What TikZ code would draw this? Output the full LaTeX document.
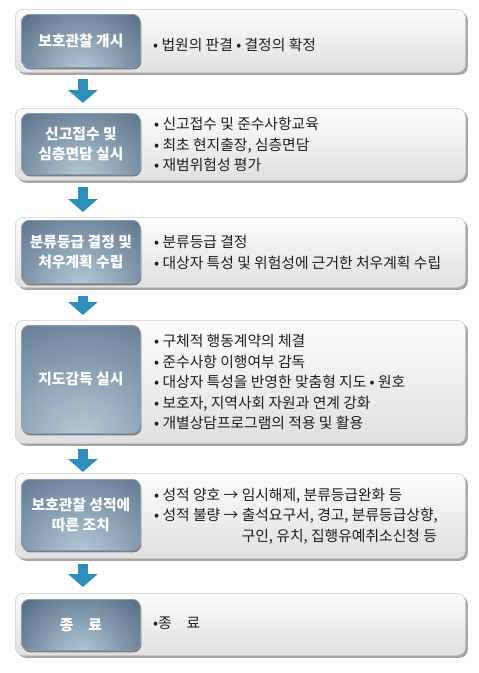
\documentclass[tikz,border=0pt]{standalone}
\usepackage{fontspec}
\setmainfont{Noto Sans CJK KR}
\usetikzlibrary{shadows,arrows.meta,calc}
\definecolor{navyedge}{HTML}{3E5472}
\definecolor{navylight}{HTML}{B4CCD7}
\definecolor{navyborder}{HTML}{8C9DB0}
\definecolor{flowblue}{HTML}{2E8EBB}
\definecolor{paneltop}{HTML}{FCFCFC}
\definecolor{panelbot}{HTML}{E0E0E0}
\definecolor{panelline}{HTML}{CFCFCF}
\definecolor{bodytext}{HTML}{1E1E1E}
\tikzset{
  panel/.style={anchor=north west, rounded corners=8pt, draw=panelline, line width=0.6pt,
    top color=paneltop, bottom color=panelbot, minimum width=450pt, inner sep=0pt,
    drop shadow={shadow xshift=2.5pt, shadow yshift=-2.5pt, fill=black, opacity=0.35}},
  darkbox/.style={anchor=north west, rounded corners=8pt, draw=navyborder, line width=0.8pt,
    fill=navyedge, minimum width=119pt, inner sep=0pt,
    text=white, font=\fontsize{14.8pt}{20pt}\selectfont\bfseries, align=center,
    drop shadow={shadow xshift=1pt, shadow yshift=-2pt, fill=black, opacity=0.45},
    path picture={\shade[inner color=navylight, outer color=navyedge]
      ([yshift=-6pt]path picture bounding box.south) circle (#1);}},
  darkbox/.default=110pt,
  itemtext/.style={anchor=west, inner sep=0pt, align=left, text=bodytext,
    font=\fontsize{14.8pt}{20.5pt}\selectfont},
  flowarrow/.style={draw=flowblue, line width=10pt,
    -{Triangle[width=29pt, length=13pt, fill=flowblue]}},
}
\begin{document}
\begin{tikzpicture}[x=1pt, y=-1pt]
\useasboundingbox (0,0) rectangle (479,673);
% panels
\node[panel, minimum height=63pt] (p1) at (15,9) {};
\node[panel, minimum height=72pt] (p2) at (15,108) {};
\node[panel, minimum height=70pt] (p3) at (15,217) {};
\node[panel, minimum height=123pt] (p4) at (15,320) {};
\node[panel, minimum height=85pt] (p5) at (15,473) {};
\node[panel, minimum height=62pt] (p6) at (15,593) {};
% dark label boxes
\node[darkbox=105pt, minimum height=53pt] (d1) at (21,14) {보호관찰 개시};
\node[darkbox=120pt, minimum height=61pt] (d2) at (21,113) {신고접수 및\\심층면담 실시};
\node[darkbox=125pt, minimum height=63pt] (d3) at (21,220) {분류등급 결정 및\\처우계획 수립};
\node[darkbox=200pt, minimum height=108pt] (d4) at (21,325) {지도감독 실시};
\node[darkbox=140pt, minimum height=71pt] (d5) at (21,479) {보호관찰 성적에\\따른 조치};
\node[darkbox=100pt, minimum height=51pt] (d6) at (21,599) {종\quad 료};
% item texts
\node[itemtext] (t1) at (153,45) {• 법원의 판결 • 결정의 확정};
\node[itemtext] (t2) at (154,144.5) {• 신고접수 및 준수사항교육\\• 최초 현지출장, 심층면담\\• 재범위험성 평가};
\node[itemtext] (t3) at (154,252.5) {• 분류등급 결정\\• 대상자 특성 및 위험성에 근거한 처우계획 수립};
\node[itemtext] (t4) at (154,382) {• 구체적 행동계약의 체결\\• 준수사항 이행여부 감독\\• 대상자 특성을 반영한 맞춤형 지도 • 원호\\• 보호자, 지역사회 자원과 연계 강화\\• 개별상담프로그램의 적용 및 활용};
\node[itemtext] (t5) at (154,516) {• 성적 양호 → 임시해제, 분류등급완화 등\\• 성적 불량 → 출석요구서, 경고, 분류등급상향,\\\phantom{• 성적 불량 → }구인, 유치, 집행유예취소신청 등};
\node[itemtext] (t6) at (153,623) {•종\quad 료};
% arrows
\draw[flowarrow] ([xshift=2pt, yshift=-6pt]d1.center |- p1.south) -- ([xshift=2pt, yshift=5pt]d2.center |- p2.north);
\draw[flowarrow] ([xshift=2pt, yshift=-6pt]d2.center |- p2.south) -- ([xshift=2pt, yshift=5pt]d3.center |- p3.north);
\draw[flowarrow] ([xshift=2pt, yshift=-8pt]d3.center |- p3.south) -- ([xshift=2pt, yshift=5pt]d4.center |- p4.north);
\draw[flowarrow] ([xshift=2pt, yshift=-5pt]d4.center |- p4.south) -- ([xshift=2pt, yshift=1pt]d5.center |- p5.north);
\draw[flowarrow] ([xshift=2pt, yshift=-5pt]d5.center |- p5.south) -- ([xshift=2pt, yshift=6pt]d6.center |- p6.north);
\end{tikzpicture}
\end{document}
